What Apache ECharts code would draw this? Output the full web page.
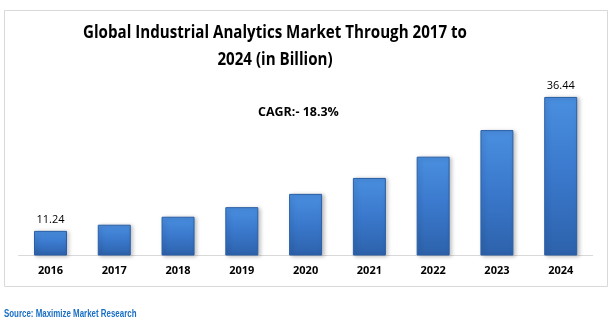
<!DOCTYPE html>
<html><head><meta charset="utf-8">
<script src="https://cdn.jsdelivr.net/npm/echarts@6/dist/echarts.min.js"></script>
<style>html,body{margin:0;padding:0;background:#fff}#c{width:614px;height:323px}</style>
</head><body><div id="c"></div>
<script>
var years = ['2016','2017','2018','2019','2020','2021','2022','2023','2024'];
var values = [11.24, 12.4, 13.9, 15.7, 18.2, 21.2, 25.2, 30.2, 36.44];
var shownLabels = ['11.24', '', '', '', '', '', '', '', '36.44'];
var titleLines = ['Global Industrial Analytics Market Through 2017 to', '2024 (in Billion)'];
var cagrText = 'CAGR:- 18.3%';
var sourceText = 'Source: Maximize Market Research';

var chart = echarts.init(document.getElementById('c'));
var font = '"Open Sans", "Liberation Sans", sans-serif';
chart.setOption({
  animation: false,
  grid: {left: 18.6, right: 21.4, top: 78, bottom: 68},
  xAxis: {
    type: 'category', data: years,
    axisLine: {lineStyle: {color: '#d9d9d9', width: 1}},
    axisTick: {show: false},
    axisLabel: {fontFamily: font, fontWeight: 'bold', fontSize: 11, color: '#000', margin: 10}
  },
  yAxis: {type: 'value', min: 6.7, max: 40, show: false, splitLine: {show: false}},
  series: [{
    type: 'bar', data: values, barWidth: 33,
    itemStyle: {
      color: new echarts.graphic.LinearGradient(0, 0, 0, 1, [
        {offset: 0, color: '#4a8fe0'}, {offset: 0.5, color: '#3a78cc'}, {offset: 1, color: '#2d62ab'}
      ]),
      borderColor: '#2a5ea6', borderWidth: 1,
      shadowColor: 'rgba(0,0,0,0.25)', shadowBlur: 4, shadowOffsetX: 2, shadowOffsetY: 1
    },
    label: {
      show: true, position: 'top', distance: 6,
      fontFamily: font, fontSize: 11, color: '#000',
      formatter: function (p) { return shownLabels[p.dataIndex]; }
    }
  }],
  graphic: [
    {type: 'rect', shape: {x: 4.5, y: 10.5, width: 603, height: 276}, style: {fill: 'none', stroke: '#d9d9d9', lineWidth: 1}, silent: true},
    {type: 'text', x: 275, y: 20, scaleX: 0.89,
      style: {text: titleLines.join('\n'), textAlign: 'center', font: 'bold 17px ' + font, lineHeight: 27, fill: '#000'}},
    {type: 'text', x: 258, y: 106, scaleX: 0.96, style: {text: cagrText, font: 'bold 13px ' + font, fill: '#000'}},
    {type: 'text', x: 4, y: 308, scaleX: 0.72, style: {text: sourceText, font: 'bold 11px "Liberation Sans", sans-serif', fill: '#1a6fc4'}}
  ]
});
</script></body></html>
